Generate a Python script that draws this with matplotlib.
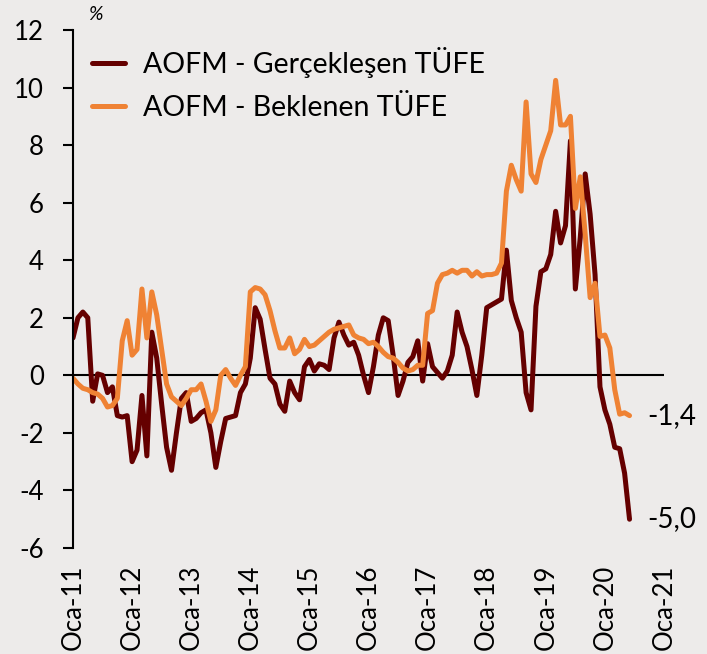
import matplotlib
matplotlib.use("Agg")
import matplotlib.pyplot as plt
import numpy as np

plt.rcParams['font.family'] = ['Lato', 'DejaVu Sans']
plt.rcParams['axes.unicode_minus'] = False

# Monthly data, Jan-2011 .. Jun-2020
gerceklesen = [
    1.3, 2.0, 2.2, 2.0, -0.9, 0.05, 0.0, -0.6, -0.4, -1.4, -1.45, -1.4,
    -3.0, -2.6, -0.7, -2.8, 1.5, 0.6, -1.0, -2.5, -3.3, -2.0, -0.8, -0.6,
    -1.6, -1.5, -1.3, -1.2, -2.0, -3.2, -2.3, -1.5, -1.45, -1.4, -0.6, -0.3,
    0.6, 2.35, 1.95, 0.9, -0.1, -0.3, -1.0, -1.25, -0.2, -0.6, -0.85, 0.3,
    0.55, 0.15, 0.4, 0.35, 0.2, 1.3, 1.85, 1.4, 1.05, 1.15, 0.7, 0.0,
    -0.6, 0.3, 1.4, 2.0, 1.9, 0.7, -0.7, -0.2, 0.45, 0.65, 1.2, -0.2,
    1.1, 0.3, 0.1, -0.1, 0.15, 0.7, 2.2, 1.5, 1.0, 0.2, -0.7, 0.7,
    2.35, 2.45, 2.55, 2.65, 4.35, 2.6, 2.0, 1.5, -0.6, -1.2, 2.4, 3.6,
    3.7, 4.2, 5.7, 4.6, 5.2, 8.15, 3.0, 4.8, 7.0, 5.6, 3.5, -0.4,
    -1.2, -1.7, -2.5, -2.55, -3.4, -5.0,
]
beklenen = [
    -0.1, -0.3, -0.45, -0.5, -0.6, -0.65, -0.8, -1.1, -1.05, -0.8, 1.2, 1.9,
    0.7, 0.9, 3.0, 1.3, 2.9, 2.1, 0.9, -0.3, -0.75, -0.9, -1.05, -0.8,
    -0.5, -0.5, -0.3, -0.9, -1.6, -1.2, 0.0, 0.2, -0.1, -0.35, 0.0, 0.3,
    2.9, 3.05, 3.0, 2.8, 2.25, 1.55, 0.95, 0.95, 1.3, 0.75, 0.9, 1.25,
    1.0, 1.05, 1.2, 1.35, 1.5, 1.6, 1.65, 1.7, 1.75, 1.4, 1.3, 1.25,
    1.1, 1.15, 1.0, 0.8, 0.65, 0.6, 0.45, 0.25, 0.15, 0.2, 0.35, 0.35,
    2.15, 2.25, 3.2, 3.5, 3.55, 3.65, 3.55, 3.65, 3.65, 3.45, 3.6, 3.45,
    3.5, 3.5, 3.55, 3.9, 6.4, 7.3, 6.8, 6.4, 9.5, 7.0, 6.7, 7.5,
    8.0, 8.5, 10.25, 8.7, 8.7, 9.0, 5.8, 6.9, 4.9, 2.7, 3.2, 1.35,
    1.4, 0.95, -0.5, -1.35, -1.3, -1.4,
]
xtick_labels = ['Oca-11', 'Oca-12', 'Oca-13', 'Oca-14', 'Oca-15', 'Oca-16',
                'Oca-17', 'Oca-18', 'Oca-19', 'Oca-20', 'Oca-21']
yticks = [-6, -4, -2, 0, 2, 4, 6, 8, 10, 12]
labels = ['AOFM - Gerçekleşen TÜFE', 'AOFM - Beklenen TÜFE']

dark = '#650000'
orange = '#EF8234'
bg = '#EDEBEA'

months = np.arange(len(gerceklesen))

fig = plt.figure(figsize=(7.07, 6.54), dpi=100, facecolor=bg)
ax = fig.add_axes([73/707, 1 - 548/654, (664-73)/707, (548-30)/654])
ax.set_facecolor(bg)

ax.plot(months, gerceklesen, color=dark, lw=3.6, label=labels[0],
        solid_joinstyle='round', solid_capstyle='round')
ax.plot(months, beklenen, color=orange, lw=3.6, label=labels[1],
        solid_joinstyle='round', solid_capstyle='round')

ax.axhline(0, color='black', lw=1.5, zorder=1)

ax.set_xlim(0, 120)
ax.set_ylim(-6, 12)
ax.set_yticks(yticks)
ax.set_yticklabels([str(v) for v in yticks])
ax.set_xticks(np.arange(0, 121, 12))
ax.set_xticklabels(xtick_labels, rotation=90)

for s in ['top', 'right', 'bottom']:
    ax.spines[s].set_visible(False)
ax.spines['left'].set_linewidth(1.5)
ax.tick_params(axis='y', length=7, width=1.5, pad=14, labelsize=18.5)
ax.tick_params(axis='x', length=0, pad=12, labelsize=18.5)

leg = ax.legend(loc='upper left', bbox_to_anchor=(0.032, 0.968), frameon=False,
                fontsize=20.5, handlelength=1.17, handletextpad=0.62,
                labelspacing=0.6, borderaxespad=0, borderpad=0)
for h in leg.get_lines():
    h.set_linewidth(3.6)
    h.set_solid_capstyle('round')

fig.text(88/707, 1 - 14/654, '%', fontsize=14, style='italic', va='center', ha='left')

for series in (beklenen, gerceklesen):
    ax.annotate(f"{series[-1]:.1f}".replace('.', ','), xy=(months[-1], series[-1]),
                xytext=(13, 0), textcoords='offset points', fontsize=20,
                va='center', ha='left')

fig.savefig('out.png', dpi=100, facecolor=bg)
